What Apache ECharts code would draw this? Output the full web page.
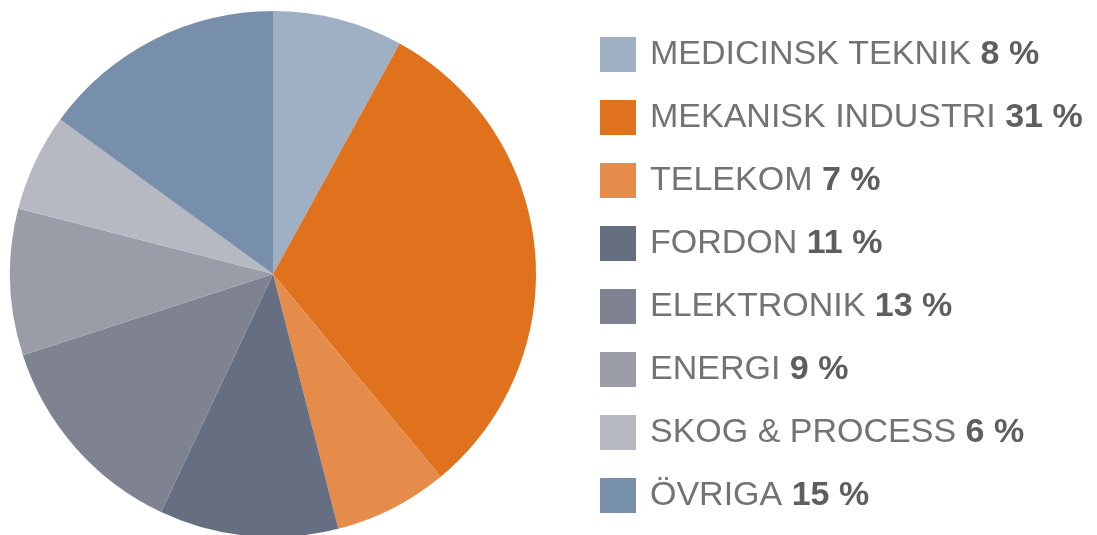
<!DOCTYPE html>
<html>
<head>
<meta charset="utf-8">
<script src="https://cdn.jsdelivr.net/npm/echarts@6/dist/echarts.min.js"></script>
<style>
html, body { margin: 0; padding: 0; background: #fff; }
#main { width: 1097px; height: 535px; }
</style>
</head>
<body>
<div id="main"></div>
<script>
// branscher, andel i procent
var categories = ["MEDICINSK TEKNIK", "MEKANISK INDUSTRI", "TELEKOM", "FORDON",
  "ELEKTRONIK", "ENERGI", "SKOG & PROCESS", "ÖVRIGA"];
var shares = [8, 31, 7, 11, 13, 9, 6, 15];
var colors = ["#9fb0c5", "#e0711d", "#e58c4a", "#666f82",
  "#7f8391", "#9a9da8", "#b6b8c2", "#778faa"];

var chart = echarts.init(document.getElementById("main"));

var pieData = categories.map(function (c, i) {
  return { name: c, value: shares[i], itemStyle: { color: colors[i] } };
});

chart.setOption({
  animation: false,
  legend: {
    orient: "vertical",
    left: 595,
    top: 32,
    itemWidth: 36,
    itemHeight: 35,
    itemGap: 28,
    icon: "rect",
    selectedMode: false,
    data: categories,
    formatter: function (name) {
      var i = categories.indexOf(name);
      return "{n|" + name + "\u00a0}{v|" + shares[i] + "\u00a0%}";
    },
    textStyle: {
      padding: [0, 0, 0, 9],
      rich: {
        n: { fontFamily: "Liberation Sans", fontSize: 34, color: "#737373", lineHeight: 35 },
        v: { fontFamily: "Liberation Sans", fontSize: 34, fontWeight: "bold", color: "#5e5e5e", lineHeight: 35 }
      }
    }
  },
  series: [
    {
      type: "pie",
      center: [273, 274],
      radius: 263,
      startAngle: 90,
      clockwise: true,
      silent: true,
      label: { show: false },
      labelLine: { show: false },
      itemStyle: { borderWidth: 0 },
      data: pieData
    }
  ]
});
</script>
</body>
</html>
